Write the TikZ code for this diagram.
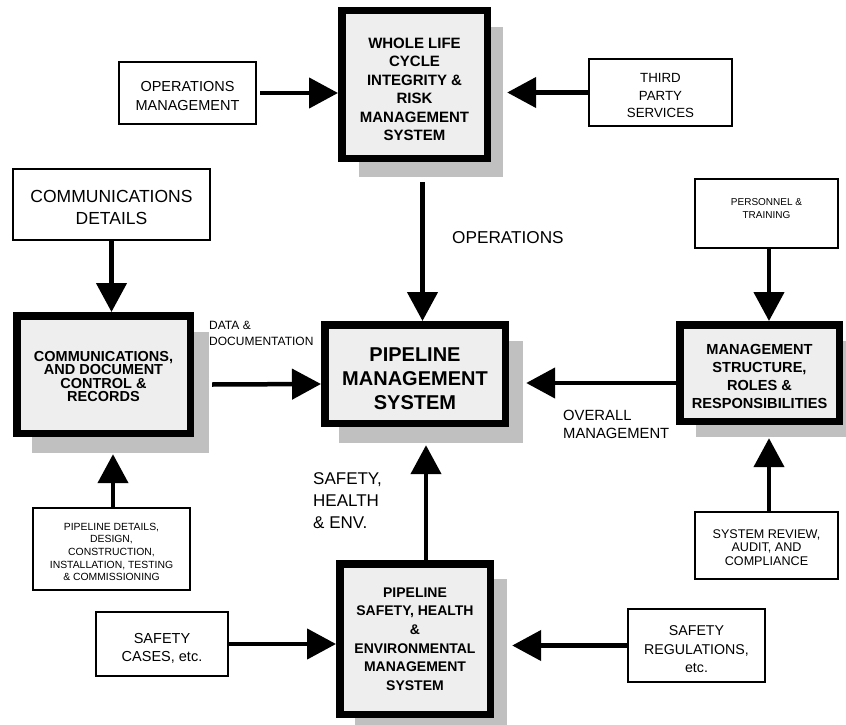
\documentclass[tikz,border=0pt]{standalone}
\usepackage{fontspec}
\setmainfont{Liberation Sans}
\usetikzlibrary{arrows.meta,calc}
\definecolor{boxgray}{HTML}{EEEEEE}
\definecolor{shadowgray}{HTML}{C0C0C0}
\tikzset{
  tbox/.style={draw, line width=7.5pt, fill=boxgray, inner sep=0pt},
  sbox/.style={draw, line width=2pt, fill=white, inner sep=0pt},
  shadowbox/.style={fill=shadowgray, draw=none, inner sep=0pt},
  txt/.style={align=center, inner sep=0pt},
  lbl/.style={anchor=west, align=left, inner sep=0pt},
  arr/.style={line width=4.5pt, -{Triangle[length=29pt,width=30pt]}},
}
\newcommand{\fs}[2]{\fontsize{#1}{#2}\selectfont}
\begin{document}
\begin{tikzpicture}[x=1pt,y=-1pt]
\useasboundingbox (0,0) rectangle (846,725);
\clip (0,0) rectangle (846,725);
% shadows
\node[shadowbox, minimum width=144pt, minimum height=150pt] (topS) at (431,102) {};
\node[shadowbox, minimum width=177pt, minimum height=121pt] (commS) at (120.5,392.5) {};
\node[shadowbox, minimum width=184pt, minimum height=102pt] (pmsS) at (431,392) {};
\node[shadowbox, minimum width=161pt, minimum height=96pt] (msrS) at (776.5,389) {};
\node[shadowbox, minimum width=152pt, minimum height=156pt] (shemS) at (431,657) {};
% thick boxes
\node[tbox, minimum width=145.5pt, minimum height=147.5pt,
  label={[txt, yshift=-5pt, font=\bfseries\fs{15}{18.5}]center:{WHOLE LIFE\\CYCLE\\INTEGRITY \&\\RISK\\MANAGEMENT\\SYSTEM}}]
  (top) at (414.5,84.5) {};
\node[tbox, minimum width=173.5pt, minimum height=117.5pt,
  label={[txt, yshift=-2pt, font=\bfseries\fs{14.5}{13.5}]center:{COMMUNICATIONS,\\AND DOCUMENT\\CONTROL \&\\RECORDS}}]
  (comm) at (103.5,374.5) {};
\node[tbox, minimum width=180.5pt, minimum height=98.5pt,
  label={[txt, yshift=-5pt, font=\bfseries\fs{20}{24}]center:{PIPELINE\\MANAGEMENT\\SYSTEM}}]
  (pms) at (415,374) {};
\node[tbox, minimum width=159.5pt, minimum height=96.5pt,
  label={[txt, yshift=-3pt, font=\bfseries\fs{14.6}{18}]center:{MANAGEMENT\\STRUCTURE,\\ROLES \&\\RESPONSIBILITIES}}]
  (msr) at (759.5,373) {};
\node[tbox, minimum width=150.5pt, minimum height=150.5pt,
  label={[txt, font=\bfseries\fs{14}{18.6}]center:{PIPELINE\\SAFETY, HEALTH\\\&\\ENVIRONMENTAL\\MANAGEMENT\\SYSTEM}}]
  (shem) at (415,639) {};
% thin boxes
\node[sbox, minimum width=137pt, minimum height=62pt,
  label={[txt, yshift=-3pt, font=\fs{14.5}{19}]center:{OPERATIONS\\MANAGEMENT}}]
  (ops) at (187.5,93) {};
\node[sbox, minimum width=143pt, minimum height=67pt,
  label={[txt, yshift=-3pt, font=\fs{13.3}{17.5}]center:{THIRD\\PARTY\\SERVICES}}]
  (tps) at (660.5,92.5) {};
\node[sbox, minimum width=197pt, minimum height=71pt,
  label={[txt, yshift=-3pt, font=\fs{17.5}{22}]center:{COMMUNICATIONS\\DETAILS}}]
  (cdet) at (111.5,204.5) {};
\node[sbox, minimum width=143pt, minimum height=69pt,
  label={[txt, yshift=5pt, font=\fs{10}{12.7}]center:{PERSONNEL \&\\TRAINING}}]
  (pers) at (766.5,213.5) {};
\node[sbox, minimum width=157pt, minimum height=82pt,
  label={[txt, yshift=-3pt, font=\fs{10.4}{12.6}]center:{PIPELINE DETAILS,\\DESIGN,\\CONSTRUCTION,\\INSTALLATION, TESTING\\\& COMMISSIONING}}]
  (pdet) at (111.5,549) {};
\node[sbox, minimum width=143pt, minimum height=67pt,
  label={[txt, yshift=-2pt, font=\fs{12.6}{13.5}]center:{SYSTEM REVIEW,\\AUDIT, AND\\COMPLIANCE}}]
  (srev) at (766.5,545.5) {};
\node[sbox, minimum width=132pt, minimum height=64pt,
  label={[txt, yshift=-4pt, font=\fs{14.5}{18}]center:{SAFETY\\CASES, etc.}}]
  (scases) at (162,644) {};
\node[sbox, minimum width=137pt, minimum height=73pt,
  label={[txt, yshift=-4pt, font=\fs{14.2}{18.5}]center:{SAFETY\\REGULATIONS,\\etc.}}]
  (sregs) at (696.5,645.5) {};
% labels
\node[lbl, font=\fs{17.2}{21}] (lops) at (452,238) {OPERATIONS};
\node[lbl, font=\fs{12}{16.7}] (ldata) at (209,333.5) {DATA \&\\DOCUMENTATION};
\node[lbl, font=\fs{14.8}{18}] (lover) at (563,424) {OVERALL\\MANAGEMENT};
\node[lbl, font=\fs{17}{22}] (lshe) at (313,501) {SAFETY,\\HEALTH\\\& ENV.};
% connectors
\draw[arr] ($(ops.east)+(3,0)$) -- (ops.east -| top.west);
\draw[arr] (tps.west) -- ($(tps.west -| topS.east)+(4,0)$);
\draw[arr] (cdet.south) -- (cdet.south |- comm.north);
\draw[arr] ($(top.south |- topS.south)+(8,5)$) -- ($(top.south |- pms.north)+(8,0)$);
\draw[arr] ($(commS.east |- comm.east)+(3,10)$) -- ($(pms.west)+(0,10)$);
\draw[arr] ($(msr.west)+(0,10)$) -- ($(pmsS.east |- msr.west)+(3,10)$);
\draw[arr] ($(pers.south)+(2.5,0)$) -- ($(pers.south |- msr.north)+(2.5,0)$);
\draw[arr] ($(srev.north)+(2.5,0)$) -- ($(srev.north |- msrS.south)+(2.5,1)$);
\draw[arr] ($(pdet.north)+(1.5,0)$) -- ($(pdet.north |- commS.south)+(1.5,1)$);
\draw[arr] ($(shem.north)+(11,0)$) -- ($(shem.north |- pmsS.south)+(11,2)$);
\draw[arr] (scases.east) -- (scases.east -| shem.west);
\draw[arr] (sregs.west) -- ($(sregs.west -| shemS.east)+(5,0)$);
\end{tikzpicture}
\end{document}
